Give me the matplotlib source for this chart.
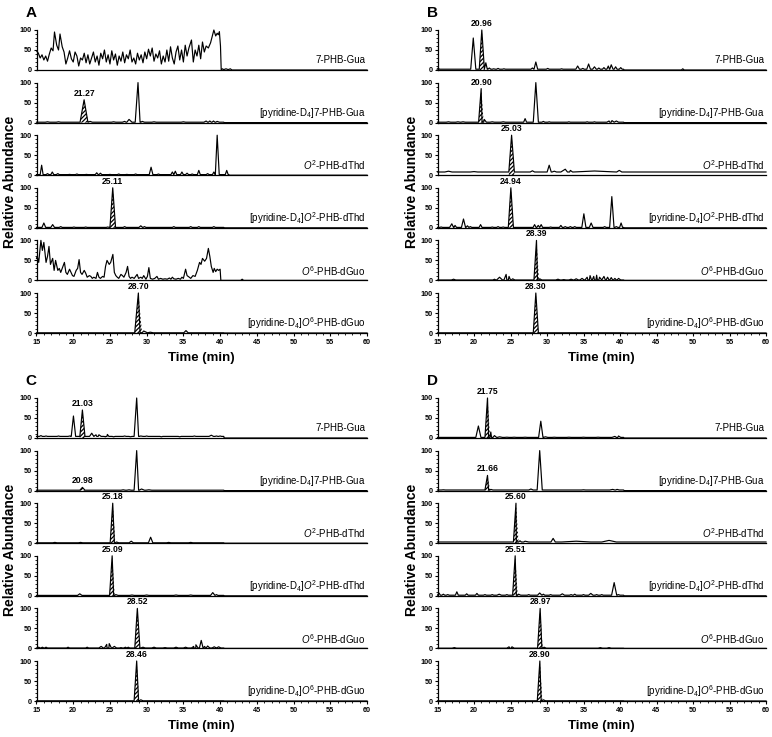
import matplotlib
matplotlib.use('Agg')
import matplotlib.pyplot as plt
from matplotlib.ticker import MultipleLocator

plt.rcParams['font.family'] = ['Liberation Sans', 'DejaVu Sans']
plt.rcParams['mathtext.fontset'] = 'custom'
plt.rcParams['mathtext.rm'] = 'Liberation Sans'
plt.rcParams['mathtext.it'] = 'Liberation Sans:italic'
plt.rcParams['mathtext.bf'] = 'Liberation Sans:bold'
plt.rcParams['hatch.linewidth'] = 0.9

W, H = 772, 737

compounds = ['7-PHB-Gua',
             r'[pyridine-D$_4$]7-PHB-Gua',
             r'$\mathit{O}^2$-PHB-dThd',
             r'[pyridine-D$_4$]$\mathit{O}^2$-PHB-dThd',
             r'$\mathit{O}^6$-PHB-dGuo',
             r'[pyridine-D$_4$]$\mathit{O}^6$-PHB-dGuo']

# noisy traces, read point by point: (time, abundance)
a1_trace = [(15.0, 48), (15.25, 42), (15.5, 30), (15.75, 38), (16.0, 25), (16.25, 35), (16.5, 22),
            (16.75, 40), (17.0, 55), (17.25, 48), (17.45, 95), (17.75, 62), (18.0, 50), (18.2, 90),
            (18.5, 58), (18.75, 45), (19.0, 15), (19.25, 30), (19.5, 48), (19.75, 28), (20.0, 20),
            (20.25, 45), (20.5, 35), (20.75, 10), (21.0, 30), (21.25, 25), (21.5, 42), (21.75, 18),
            (22.0, 38), (22.25, 15), (22.5, 30), (22.75, 45), (23.0, 20), (23.25, 35), (23.5, 12),
            (23.75, 42), (24.0, 28), (24.25, 50), (24.5, 20), (24.75, 38), (25.0, 15), (25.25, 48),
            (25.5, 25), (25.75, 40), (26.0, 12), (26.25, 35), (26.5, 22), (26.75, 45), (27.0, 18),
            (27.25, 38), (27.5, 28), (27.75, 50), (28.0, 20), (28.25, 30), (28.5, 15), (28.75, 42),
            (29.0, 25), (29.25, 38), (29.5, 18), (29.75, 45), (30.0, 28), (30.25, 52), (30.5, 35),
            (30.75, 55), (31.0, 22), (31.25, 40), (31.5, 30), (31.75, 48), (32.0, 15), (32.25, 35),
            (32.5, 20), (32.75, 50), (33.0, 22), (33.25, 58), (33.5, 30), (33.75, 15), (34.0, 45),
            (34.25, 60), (34.5, 25), (34.75, 50), (35.0, 20), (35.25, 62), (35.5, 35), (35.75, 55),
            (36.1, 75), (36.35, 20), (36.6, 50), (36.85, 35), (37.1, 62), (37.35, 28), (37.6, 70),
            (37.85, 45), (38.1, 60), (38.4, 55), (38.7, 68), (39.15, 100), (39.4, 85), (39.6, 92),
            (39.75, 88), (39.9, 96), (40.05, 60), (40.15, 0), (40.3, 3), (40.5, 1), (40.8, 3),
            (41.1, 1), (41.4, 3), (41.6, 0), (60.0, 0)]

a5_trace = [(15.0, 55), (15.1, 60), (15.3, 45), (15.6, 100), (15.8, 75), (16.0, 95), (16.3, 45),
            (16.5, 60), (16.7, 85), (16.9, 40), (17.2, 55), (17.4, 25), (17.6, 50), (17.9, 25),
            (18.1, 30), (18.3, 20), (18.6, 35), (18.8, 45), (19.0, 20), (19.2, 15), (19.5, 28),
            (19.7, 20), (19.9, 12), (20.1, 10), (20.4, 25), (20.6, 30), (20.8, 52), (21.0, 20),
            (21.2, 15), (21.5, 25), (21.7, 18), (21.9, 8), (22.2, 12), (22.4, 10), (22.6, 5),
            (22.8, 8), (23.1, 5), (23.3, 20), (23.5, 8), (23.7, 5), (24.0, 10), (24.2, 8),
            (24.4, 35), (24.6, 50), (24.9, 40), (25.1, 45), (25.4, 65), (25.6, 20), (25.8, 12),
            (26.0, 8), (26.2, 5), (26.5, 15), (26.7, 12), (26.9, 8), (27.2, 20), (27.4, 35),
            (27.6, 10), (27.8, 5), (28.0, 8), (28.3, 5), (28.5, 10), (28.7, 15), (28.9, 5),
            (29.2, 8), (29.4, 5), (29.6, 12), (29.9, 3), (30.1, 10), (30.3, 32), (30.5, 5),
            (30.8, 3), (31.1, 5), (31.4, 10), (31.6, 3), (31.9, 5), (32.2, 3), (32.5, 4), (32.8, 3),
            (33.1, 6), (33.3, 3), (33.5, 8), (33.7, 4), (34.0, 3), (34.3, 5), (34.6, 3), (34.8, 8),
            (35.0, 5), (35.3, 28), (35.5, 12), (35.8, 8), (36.0, 5), (36.3, 12), (36.6, 10),
            (36.9, 25), (37.2, 45), (37.4, 40), (37.6, 55), (37.9, 48), (38.15, 55), (38.4, 80),
            (38.6, 60), (38.8, 35), (39.05, 20), (39.2, 30), (39.4, 22), (39.6, 28), (39.8, 25),
            (40.0, 28), (40.1, 0), (42.8, 0), (43.0, 3), (43.2, 0), (60.0, 0)]

# peak traces: (retention time, height, half base width)
a2_peaks = [(16.5, 2, .3), (18.0, 2, .3), (21.48, 57, .55), (22.3, 3, .3), (25.5, 2, .3), (27.0, 3, .3),
            (27.6, 8, .4), (28.82, 100, .38), (29.4, 3, .3), (31.0, 2, .3), (35.0, 2, .3), (38.1, 4, .3),
            (38.6, 4, .3), (39.1, 4, .3), (39.6, 3, .3)]
a3_peaks = [(15.7, 25, .2), (16.5, 4, .2), (17.15, 8, .2), (17.9, 4, .2), (19.5, 2, .2), (20.5, 3, .2),
            (21.8, 2, .2), (23.2, 6, .2), (23.7, 5, .2), (25.0, 2, .2), (26.2, 3, .2), (27.3, 2, .2),
            (28.5, 3, .2), (30.6, 20, .25), (31.6, 3, .2), (33.5, 8, .2), (33.9, 10, .2), (34.8, 8, .2),
            (35.5, 5, .2), (36.2, 3, .2), (37.1, 12, .2), (38.3, 4, .2), (39.15, 8, .2), (39.6, 100, .28),
            (40.9, 12, .2)]
a4_peaks = [(16.0, 12, .25), (17.2, 8, .25), (18.3, 3, .2), (20.1, 2, .2), (21.7, 2, .2), (24.7, 2, .2),
            (25.38, 100, .38), (27.0, 3, .2), (29.2, 5, .25), (29.7, 3, .2), (33.7, 3, .2), (36.0, 3, .2),
            (37.1, 3, .2), (39.15, 3, .2)]
a6_peaks = [(28.87, 100, .5), (29.6, 5, .5), (30.5, 2, .4), (35.35, 6, .3)]

b1_peaks = [(15.1, 5, .15), (17.2, 2, .2), (19.9, 80, .35), (21.07, 100, .35), (21.62, 18, .2), (22.1, 5, .2),
            (22.7, 3, .2), (23.3, 4, .2), (24.1, 3, .2), (28.0, 5, .2), (28.47, 20, .25), (30.1, 4, .2),
            (32.0, 3, .2), (34.2, 10, .25), (34.9, 4, .2), (35.7, 15, .25), (36.5, 8, .25), (37.1, 5, .2),
            (37.8, 6, .2), (38.4, 10, .2), (38.8, 13, .25), (39.4, 8, .2), (40.1, 6, .2), (48.6, 3, .2)]
b2_peaks = [(16.5, 2, .3), (17.8, 2, .3), (18.5, 2, .3), (20.98, 85, .35), (21.4, 8, .3), (22.5, 2, .3),
            (24.0, 2, .3), (27.0, 10, .2), (28.47, 100, .35), (29.5, 3, .2), (30.3, 2, .2), (33.0, 2, .2),
            (35.5, 2, .2), (36.5, 2, .2), (38.5, 4, .3), (38.9, 5, .3), (39.5, 4, .3)]
b3_peaks = [(16.5, 10, .5), (20.0, 9, .5), (25.15, 100, .38), (28.0, 11, .3), (30.3, 25, .28),
            (31.0, 10, .3), (32.5, 15, .6), (33.2, 12, .4), (36.5, 10.5, 3.0), (39.9, 12, .35)]
b4_peaks = [(15.5, 2, .2), (16.96, 10, .3), (17.4, 6, .2), (18.56, 22, .28), (19.1, 5, .2), (19.5, 3, .2),
            (20.9, 8, .2), (22.5, 2, .2), (23.3, 3, .2), (24.0, 2, .2), (25.05, 100, .35), (28.3, 8, .2),
            (28.8, 6, .2), (29.2, 8, .2), (30.5, 2, .2), (31.9, 6, .2), (32.5, 3, .2), (33.2, 3, .2),
            (33.8, 3, .2), (35.05, 35, .28), (36.05, 12, .25), (37.9, 3, .2), (38.88, 78, .3),
            (39.5, 3, .2), (40.15, 12, .2)]
b5_peaks = [(17.2, 3, .3), (22.8, 3, .2), (23.5, 8, .4), (24.4, 15, .3), (24.8, 10, .3), (25.3, 4, .3),
            (28.56, 100, .35), (29.0, 4, .3), (31.5, 3, .3), (32.3, 2, .3), (33.3, 3, .3), (34.0, 4, .3),
            (34.8, 5, .3), (35.5, 8, .3), (35.9, 12, .3), (36.4, 10, .3), (36.8, 13, .3), (37.2, 8, .3),
            (37.8, 10, .3), (38.3, 8, .3), (38.8, 7, .3), (39.3, 5, .3), (39.8, 5, .3)]
b6_peaks = [(28.47, 100, .35)]

c1_peaks = [(15.6, 6, .2), (16.3, 5, .2), (17.0, 4, .2), (18.0, 5, .2), (18.7, 4, .2), (19.5, 5, .2),
            (20.03, 55, .3), (21.25, 70, .35), (22.52, 12, .3), (23.1, 8, .3), (23.5, 8, .3), (24.4, 3, .2),
            (24.65, 9, .2), (25.5, 3, .2), (26.5, 4, .2), (27.0, 5, .2), (27.8, 3, .2), (28.64, 100, .35),
            (29.2, 5, .3), (30.0, 5, .2), (31.0, 4, .2), (32.0, 3, .2), (33.0, 4, .2), (34.5, 3, .2),
            (35.5, 4, .2), (36.5, 5, .2), (37.0, 4, .2), (38.8, 7, .3), (39.5, 5, .2), (40.0, 5, .2)]
c2_peaks = [(21.25, 8, .35), (26.8, 2, .3), (27.6, 2, .3), (28.64, 100, .35), (29.3, 4, .4), (30.3, 2, .4)]
c3_peaks = [(17.5, 2, .3), (21.0, 2, .3), (25.38, 100, .35), (25.9, 3, .3), (27.9, 5, .3), (30.54, 15, .3),
            (33.0, 2, .3), (36.0, 2, .3)]
c4_peaks = [(20.89, 5, .3), (25.3, 100, .35), (25.8, 3, .3), (28.0, 2, .3), (30.0, 2, .3), (34.0, 2, .3),
            (36.0, 2, .3), (39.0, 8, .3), (39.5, 3, .2)]
c5_peaks = [(15.3, 3, .2), (15.8, 3, .2), (16.3, 3, .2), (19.3, 3, .2), (21.9, 3, .2), (23.8, 5, .3),
            (24.56, 10, .3), (24.9, 12, .3), (25.6, 5, .3), (26.5, 2, .2), (27.1, 3, .2), (27.5, 3, .2),
            (28.73, 100, .35), (29.5, 3, .3), (31.0, 3, .3), (32.5, 2, .3), (34.0, 3, .3), (35.3, 3, .3),
            (36.4, 5, .3), (36.7, 9, .3), (37.43, 20, .25), (37.9, 5, .2), (38.3, 6, .3), (39.2, 4, .3),
            (39.8, 4, .3)]
c6_peaks = [(28.64, 100, .35), (29.2, 3, .3)]

d1_peaks = [(20.6, 30, .35), (21.85, 100, .35), (22.3, 15, .3), (22.8, 6, .4), (23.5, 3, .4), (24.5, 2, .3),
            (25.5, 2, .3), (27.0, 2, .3), (29.15, 42, .3), (29.8, 3, .3), (31.0, 2, .3), (33.0, 2, .3),
            (35.0, 2, .3), (37.0, 2, .3), (39.3, 4, .4), (39.8, 5, .3)]
d2_peaks = [(15.8, 2, .3), (21.85, 38, .35), (22.3, 3, .3), (27.8, 4, .3), (29.0, 100, .35), (35.0, 2, .3),
            (39.0, 3, .4), (39.6, 3, .3)]
d3_peaks = [(25.75, 100, .35), (26.3, 6, .5), (27.0, 5, .5), (30.84, 12, .3), (34.0, 5, 2.0), (38.5, 7, 1.0)]
d4_peaks = [(15.2, 7, .2), (15.8, 4, .2), (16.4, 3, .2), (17.65, 10, .2), (19.0, 5, .2), (20.4, 6, .2),
            (21.5, 3, .2), (22.5, 3, .2), (23.45, 4, .3), (24.5, 3, .2), (25.64, 100, .35), (26.1, 4, .3),
            (27.5, 3, .2), (29.0, 7, .3), (29.5, 4, .2), (30.5, 3, .2), (32.1, 5, .3), (33.3, 3, .2),
            (33.8, 4, .2), (35.0, 3, .2), (36.0, 6, .3), (36.8, 3, .2), (37.5, 3, .2), (39.2, 33, .35),
            (39.8, 3, .2)]
d5_peaks = [(17.3, 2, .3), (24.8, 4, .3), (25.2, 4, .3), (29.06, 100, .35), (29.6, 3, .3), (37.3, 2, .3),
            (38.5, 2, .3)]
d6_peaks = [(29.02, 100, .35), (29.5, 3, .3)]

# peak traces carry (baseline level, end of recorded signal, peaks)
a_traces = [a1_trace, (1, 40.5, a2_peaks), (1.5, 41.2, a3_peaks), (1, 40.5, a4_peaks),
            a5_trace, (0.5, 40.5, a6_peaks)]
b_traces = [(2, 40.5, b1_peaks), (1, 40.5, b2_peaks), (8, 60, b3_peaks), (1, 40.5, b4_peaks),
            (1, 40.5, b5_peaks), (0.5, 40.5, b6_peaks)]
c_traces = [(4, 40.5, c1_peaks), (1, 40.5, c2_peaks), (1, 40.5, c3_peaks), (1, 40.5, c4_peaks),
            (1, 40.5, c5_peaks), (0.5, 40.5, c6_peaks)]
d_traces = [(1.5, 40.5, d1_peaks), (1.5, 40.5, d2_peaks), (3, 60, d3_peaks), (1.5, 40.5, d4_peaks),
            (0.5, 40.5, d5_peaks), (0.5, 40.5, d6_peaks)]

# labelled (hatched) peaks: label text and apex time of the peak
a_marks = [None, ('21.27', 21.48), None, ('25.11', 25.38), None, ('28.70', 28.87)]
b_marks = [('20.96', 21.07), ('20.90', 20.98), ('25.03', 25.15), ('24.94', 25.05), ('28.39', 28.56),
           ('28.30', 28.47)]
c_marks = [('21.03', 21.25), ('20.98', 21.25), ('25.18', 25.38), ('25.09', 25.3), ('28.52', 28.73),
           ('28.46', 28.64)]
d_marks = [('21.75', 21.85), ('21.66', 21.85), ('25.60', 25.75), ('25.51', 25.64), ('28.97', 29.06),
           ('28.90', 29.02)]


def peak_line(base, end, peaks):
    pts = [(15.0, base), (end, base)]
    if end < 60:
        pts += [(end + 0.05, 0), (60.0, 0)]
    for t, h, hw in peaks:
        b = base if t <= end else 0
        pts += [(t - hw, b), (t, h), (t + hw, b)]
    pts.sort()
    return [p[0] for p in pts], [p[1] for p in pts]


def draw_panel(fig, letter, left, right, top, traces, marks):
    n = len(traces)
    for i, (trace, mark, name) in enumerate(zip(traces, marks, compounds)):
        y_top = top + 52.6 * i
        ax = fig.add_axes([left / W, 1 - (y_top + 40) / H, (right - left) / W, 40 / H])
        ax.set_facecolor('none')
        if isinstance(trace, tuple):
            base, end, peaks = trace
            t, v = peak_line(base, end, peaks)
        else:
            t, v = [p[0] for p in trace], [p[1] for p in trace]
            peaks, base = [], 0
        ax.plot(t, v, color='black', lw=0.85, clip_on=False, zorder=3)

        if mark is not None:
            label, tm = mark
            pt, ph, phw = min(peaks, key=lambda p: abs(p[0] - tm))
            ax.fill_between([pt - phw, pt, pt + phw], 0, [base, ph, base], facecolor='none',
                            edgecolor='black', linewidth=0, hatch='////////', zorder=2)
            ax.annotate(label, (pt, ph), xytext=(0, 1.5), textcoords='offset points',
                        ha='center', va='bottom', fontsize=6.2, fontweight='bold',
                        annotation_clip=False, zorder=5)

        ax.text(59.85, 24, name, ha='right', va='center', fontsize=7, zorder=4)

        ax.set_xlim(15, 60)
        ax.set_ylim(0, 100)
        ax.spines[['top', 'right']].set_visible(False)
        for s in ['left', 'bottom']:
            ax.spines[s].set_linewidth(0.9)
        ax.set_yticks([0, 50, 100])
        ax.yaxis.set_minor_locator(MultipleLocator(10))
        ax.tick_params(which='major', length=2.5, width=0.8, labelsize=5.2, pad=1)
        ax.tick_params(which='minor', length=1.4, width=0.6)
        if i == n - 1:
            ax.set_xticks(range(15, 61, 5))
            ax.xaxis.set_minor_locator(MultipleLocator(1))
            ax.tick_params(axis='x', which='major', pad=2)
            for lab in ax.get_xticklabels():
                lab.set_fontweight('bold')
        else:
            ax.tick_params(axis='x', which='both', bottom=False, labelbottom=False)
        for lab in ax.get_yticklabels():
            lab.set_fontweight('bold')

    bottom = top + 52.6 * (n - 1) + 40
    fig.text((left - 11) / W, 1 - (top - 24) / H, letter, fontsize=11, fontweight='bold',
             ha='left', va='top')
    fig.text((left - 26) / W, 1 - (top + bottom) / 2 / H, 'Relative Abundance', rotation=90,
             fontsize=10, fontweight='bold', ha='center', va='center')
    fig.text((left + right) / 2 / W, 1 - (bottom + 25) / H, 'Time (min)', fontsize=9.5,
             fontweight='bold', ha='center', va='center')


fig = plt.figure(figsize=(W / 100, H / 100), dpi=100)
draw_panel(fig, 'A', 36.5, 367, 30, a_traces, a_marks)
draw_panel(fig, 'B', 437.5, 766, 30, b_traces, b_marks)
draw_panel(fig, 'C', 36.5, 367, 398, c_traces, c_marks)
draw_panel(fig, 'D', 437.5, 766, 398, d_traces, d_marks)
fig.savefig('out.png', dpi=100)
